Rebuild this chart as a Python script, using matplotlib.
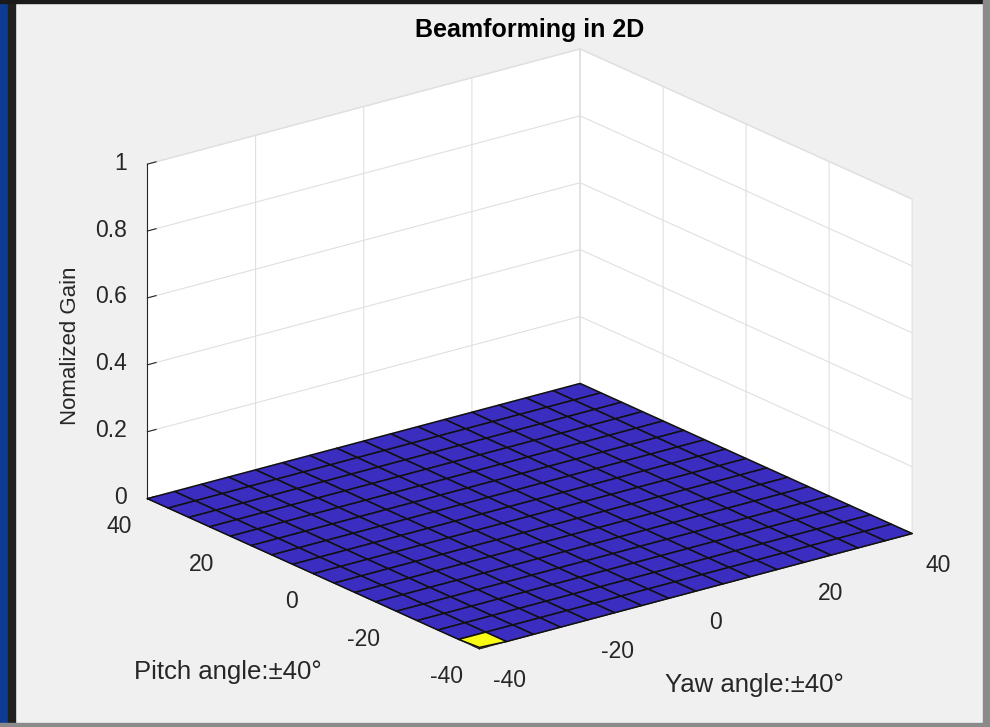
import numpy as np
import matplotlib
matplotlib.use("Agg")
import matplotlib.pyplot as plt
from matplotlib.colors import LinearSegmentedColormap, Normalize
from matplotlib.patches import Rectangle

# grid of steering angles (degrees) and the normalized gain
yaw_deg = [-40, -35, -30, -25, -20, -15, -10, -5, 0, 5, 10, 15, 20, 25, 30, 35, 40]
pitch_deg = [-40, -35, -30, -25, -20, -15, -10, -5, 0, 5, 10, 15, 20, 25, 30, 35, 40]
gain = np.zeros((len(pitch_deg), len(yaw_deg)))
gain[0, 0] = 0.004  # only the (-40, -40) corner is above the floor

x_ticks = [-40, -20, 0, 20, 40]
y_ticks = [-40, -20, 0, 20, 40]
z_ticks = [0, 0.2, 0.4, 0.6, 0.8, 1]
z_ticklabels = ['0', '0.2', '0.4', '0.6', '0.8', '1']

plt.rcParams['font.family'] = ['Liberation Sans', 'DejaVu Sans']
plt.rcParams['axes.unicode_minus'] = False

parula = LinearSegmentedColormap.from_list(
    'parula_ish', ['#3b2dbf', '#2a7ff0', '#17b7b0', '#a5be6a', '#f9fb15'])

fig = plt.figure(figsize=(9.9, 7.27), dpi=100, facecolor='#f0f0f0')

# screenshot frame
fig.patches.append(Rectangle((0, 0), 8 / 990, 1, transform=fig.transFigure, color='#0d3c94', zorder=0))
fig.patches.append(Rectangle((8 / 990, 0), 7 / 990, 1, transform=fig.transFigure, color='#202020', zorder=0))
fig.patches.append(Rectangle((0, 1 - 3 / 727), 1, 3 / 727, transform=fig.transFigure, color='#1a1a1a', zorder=0))
fig.patches.append(Rectangle((983 / 990, 0), 7 / 990, 1, transform=fig.transFigure, color='#8a8a8a', zorder=0))
fig.patches.append(Rectangle((0, 0), 1, 4 / 727, transform=fig.transFigure, color='#8a8a8a', zorder=0))

# square 900x900 px axes so nothing gets clipped
ax = fig.add_axes([0.06828, -0.11554, 900 / 990, 900 / 727], projection='3d', proj_type='ortho')
ax.set_facecolor('none')
ax.view_init(elev=20.3, azim=-127.5)
ax.set_box_aspect((1, 1, 0.654), zoom=0.9166)

X, Y = np.meshgrid(yaw_deg, pitch_deg)
colors = parula(Normalize(gain.min(), gain.max())(gain))
ax.plot_surface(X, Y, gain, facecolors=colors, rstride=1, cstride=1,
                edgecolor='#111111', linewidth=1.1, shade=False, antialiased=True)

ax.set_xlim(-40, 40)
ax.set_ylim(-40, 40)
ax.set_zlim(0, 1)
ax.set_xticks(x_ticks)
ax.set_yticks(y_ticks)
ax.set_zticks(z_ticks)
ax.set_zticklabels(z_ticklabels)

for axis in (ax.xaxis, ax.yaxis, ax.zaxis):
    axis.set_pane_color((1, 1, 1, 1))
    axis.pane.set_edgecolor('#e2e2e2')
    axis.line.set_color('#262626')
    axis._axinfo['grid']['color'] = '#e0e0e0'
    axis._axinfo['grid']['linewidth'] = 0.8
    axis._axinfo['tick']['inward_factor'] = 0.0
    axis._axinfo['tick']['outward_factor'] = 0.25
    axis._axinfo['tick']['color'] = '#262626'
ax.tick_params(labelsize=16.5, colors='#262626')

ax.zaxis.set_tick_params(pad=1.2)
for t in ax.get_zticklabels():
    t.set_horizontalalignment('right')
    t.set_verticalalignment('center')
ax.xaxis.set_tick_params(pad=6)
for t in ax.get_xticklabels():
    t.set_horizontalalignment('left')
ax.yaxis.set_tick_params(pad=4.5)
for t in ax.get_yticklabels():
    t.set_horizontalalignment('right')

fig.text(530 / 990, 1 - 30 / 727, 'Beamforming in 2D', ha='center', va='center',
         fontsize=18, fontweight='bold', color='black')
fig.text(70 / 990, 1 - 346 / 727, 'Nomalized Gain', ha='center', va='center',
         rotation=90, fontsize=16, color='#262626')
fig.text(228 / 990, 1 - 672 / 727, 'Pitch angle:±40°', ha='center', va='center',
         fontsize=18.5, color='#262626')
fig.text(754 / 990, 1 - 685 / 727, 'Yaw angle:±40°', ha='center', va='center',
         fontsize=18.5, color='#262626')

fig.savefig('out.png', dpi=100, facecolor=fig.get_facecolor())
